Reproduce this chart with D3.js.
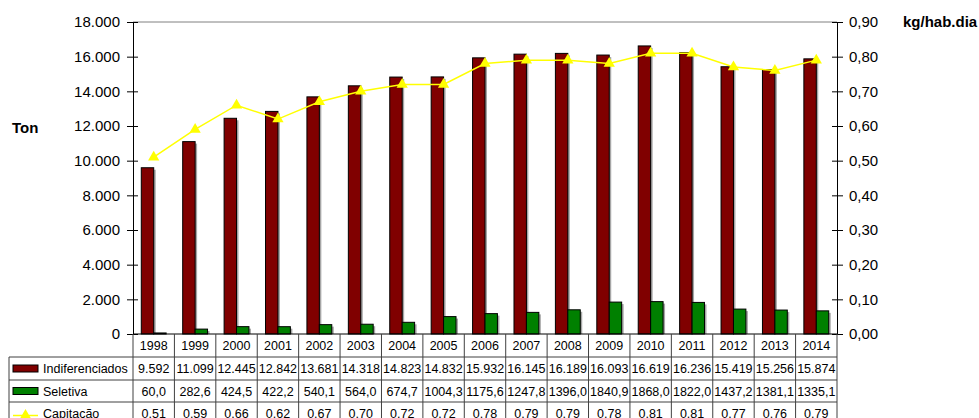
<!DOCTYPE html>
<html>
<head>
<meta charset="utf-8">
<script src="https://cdn.jsdelivr.net/npm/d3@7"></script>
<style>
  html, body { margin: 0; padding: 0; background: #fff; }
  svg { display: block; font-family: "Liberation Sans", Arial, sans-serif; }
</style>
</head>
<body>
<svg id="chart" width="979" height="418"></svg>
<script>
const years = ["1998","1999","2000","2001","2002","2003","2004","2005","2006","2007","2008","2009","2010","2011","2012","2013","2014"];
const indiferenciados = [9592,11099,12445,12842,13681,14318,14823,14832,15932,16145,16189,16093,16619,16236,15419,15256,15874];
const seletiva = [60.0,282.6,424.5,422.2,540.1,564.0,674.7,1004.3,1175.6,1247.8,1396.0,1840.9,1868.0,1822.0,1437.2,1381.1,1335.1];
const capitacao = [0.51,0.59,0.66,0.62,0.67,0.70,0.72,0.72,0.78,0.79,0.79,0.78,0.81,0.81,0.77,0.76,0.79];
const leftTicks = [0,2000,4000,6000,8000,10000,12000,14000,16000,18000];
const rightTicks = [0,0.1,0.2,0.3,0.4,0.5,0.6,0.7,0.8,0.9];
const seriesNames = ["Indiferenciados","Seletiva","Capitação"];

const svg = d3.select("#chart");
const L = 133, R = 837, T = 22, B = 334;

const ptLocale = d3.formatLocale({decimal: ",", thousands: ".", grouping: [3], currency: ["", ""]});
const enLocale = d3.formatLocale({decimal: ".", thousands: ",", grouping: [3], currency: ["", ""]});
const fmtThousands = ptLocale.format(",d");
const fmtRight = ptLocale.format(".2f");
const fmtSel = ptLocale.format(".1f");
const fmtCap = enLocale.format(".2f");

const x = d3.scaleBand().domain(years).range([L, R]).paddingInner(0).paddingOuter(0);
const yL = d3.scaleLinear().domain([0, 18000]).range([B, T]);
const yR = d3.scaleLinear().domain([0, 0.9]).range([B, T]);
const bw = x.bandwidth() * 0.3;

// top border
svg.append("line").attr("x1", L).attr("x2", R).attr("y1", T).attr("y2", T)
  .attr("stroke", "#808080").attr("stroke-width", 1);

// bars
const gBars = svg.append("g");
years.forEach((yr, i) => {
  const cx = x(yr) + x.bandwidth() / 2;
  const defs = [
    {v: indiferenciados[i], x0: cx - bw, fill: "#800000"},
    {v: seletiva[i], x0: cx, fill: "#008000"}
  ];
  defs.forEach(d => {
    const y0 = yL(d.v);
    gBars.append("rect").attr("x", d.x0 + 2).attr("y", y0 + 2)
      .attr("width", bw).attr("height", Math.max(0, B - y0 - 2))
      .attr("fill", "#a6a6a6");
  });
  defs.forEach(d => {
    const y0 = yL(d.v);
    gBars.append("rect").attr("x", d.x0).attr("y", y0)
      .attr("width", bw).attr("height", B - y0)
      .attr("fill", d.fill).attr("stroke", "#000").attr("stroke-width", 1);
  });
});

// axes
const axL = svg.append("g").attr("transform", `translate(${L},0)`)
  .call(d3.axisLeft(yL).tickValues(leftTicks).tickFormat(fmtThousands).tickSizeInner(6).tickSizeOuter(0).tickPadding(7));
axL.selectAll(".tick line").attr("x1", 5);
const axR = svg.append("g").attr("transform", `translate(${R},0)`)
  .call(d3.axisRight(yR).tickValues(rightTicks).tickFormat(fmtRight).tickSizeInner(6).tickSizeOuter(0).tickPadding(6));
axR.selectAll(".tick line").attr("x1", -5);
[axL, axR].forEach(a => {
  a.select(".domain").attr("stroke", "#000");
  a.selectAll("text").attr("font-size", 15).attr("fill", "#000")
    .attr("font-family", "'Liberation Sans', Arial, sans-serif");
  a.selectAll(".tick line").attr("stroke", "#000");
});
svg.append("line").attr("x1", L).attr("x2", R).attr("y1", B).attr("y2", B).attr("stroke", "#000");

// line
const line = d3.line().x((d, i) => x(years[i]) + x.bandwidth() / 2).y(d => yR(d));
svg.append("path").datum(capitacao).attr("d", line)
  .attr("fill", "none").attr("stroke", "#FFFF00").attr("stroke-width", 1.5);
const tri = d3.symbol().type(d3.symbolTriangle).size(55);
svg.append("g").selectAll("path").data(capitacao).join("path")
  .attr("d", tri)
  .attr("transform", (d, i) => `translate(${x(years[i]) + x.bandwidth() / 2},${yR(d)})`)
  .attr("fill", "#FFFF00");

// axis titles
svg.append("text").attr("x", 12).attr("y", 133).text("Ton")
  .attr("font-size", 15).attr("font-weight", "bold");
svg.append("text").attr("x", 903).attr("y", 27).text("kg/hab.dia")
  .attr("font-size", 15).attr("font-weight", "bold");

// data table
const rowTops = [B, 357, 380, 402, 425];
const tbl = svg.append("g");
const lineColor = "#404040";
// horizontal lines
[357, 380, 402].forEach(yy => {
  tbl.append("line").attr("x1", 9).attr("x2", R).attr("y1", yy).attr("y2", yy)
    .attr("stroke", lineColor);
});
// vertical lines
tbl.append("line").attr("x1", 9).attr("x2", 9).attr("y1", 357).attr("y2", 418).attr("stroke", lineColor);
years.forEach(yr => {
  tbl.append("line").attr("x1", x(yr)).attr("x2", x(yr)).attr("y1", B).attr("y2", 418).attr("stroke", lineColor);
});
tbl.append("line").attr("x1", R).attr("x2", R).attr("y1", B).attr("y2", 418).attr("stroke", lineColor);

const rowsText = [
  years,
  indiferenciados.map(fmtThousands),
  seletiva.map(fmtSel),
  capitacao.map(fmtCap)
];
rowsText.forEach((row, r) => {
  const cy = (rowTops[r] + rowTops[r + 1]) / 2;
  row.forEach((t, i) => {
    tbl.append("text").attr("x", x(years[i]) + x.bandwidth() / 2).attr("y", cy)
      .attr("dy", "0.36em").attr("text-anchor", "middle")
      .attr("font-size", 12.5).text(t);
  });
});

// legend keys in table
seriesNames.forEach((name, r) => {
  const cy = (rowTops[r + 1] + rowTops[r + 2]) / 2;
  if (r < 2) {
    tbl.append("rect").attr("x", 13).attr("y", cy - 3.5).attr("width", 25).attr("height", 7)
      .attr("fill", r === 0 ? "#800000" : "#008000").attr("stroke", "#000");
  } else {
    tbl.append("line").attr("x1", 13).attr("x2", 38).attr("y1", cy + 2).attr("y2", cy + 2)
      .attr("stroke", "#FFFF00").attr("stroke-width", 1.5);
    tbl.append("path").attr("d", tri).attr("transform", `translate(25.5,${cy + 2})`).attr("fill", "#FFFF00");
  }
  tbl.append("text").attr("x", 43).attr("y", cy).attr("dy", "0.36em")
    .attr("font-size", 12.5).text(name);
});
</script>
</body>
</html>
